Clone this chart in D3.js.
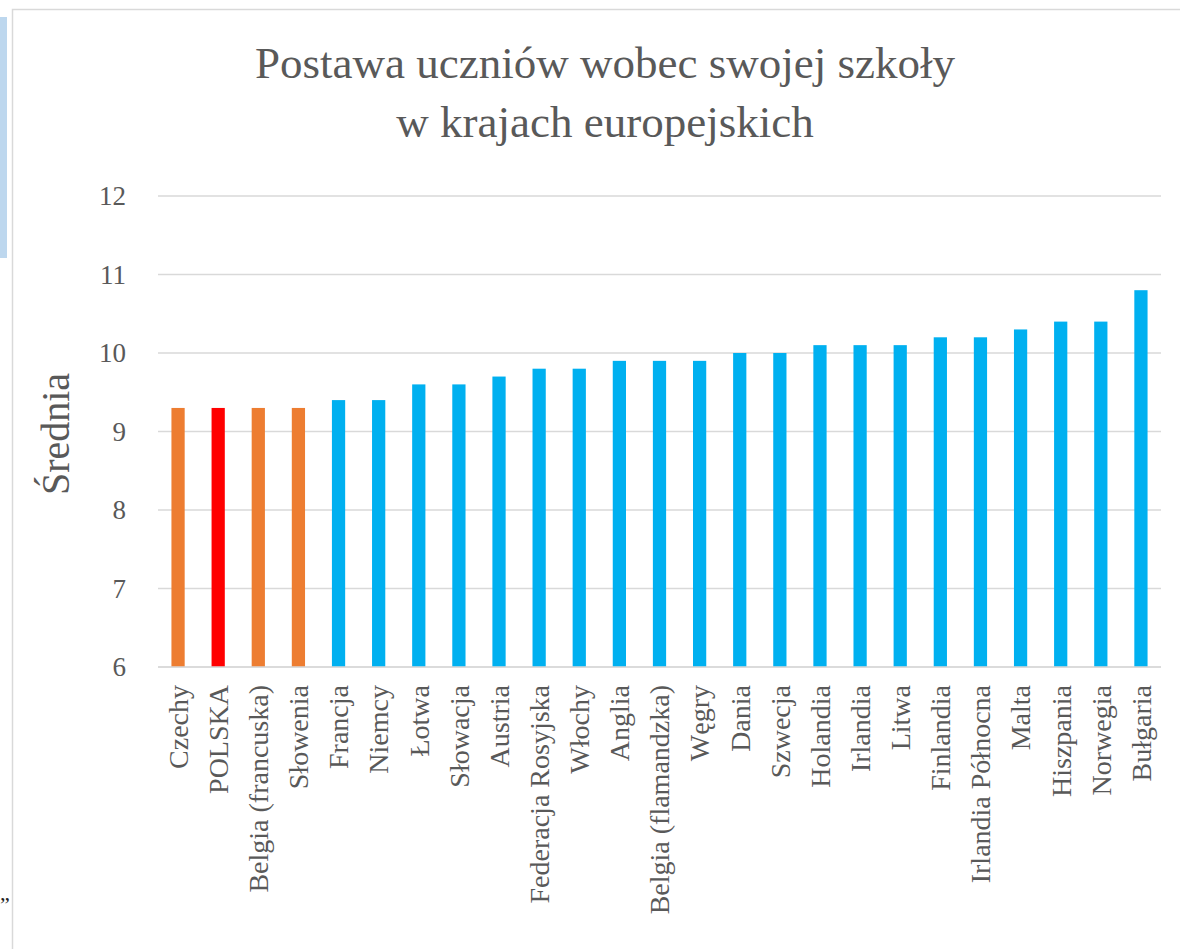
<!DOCTYPE html>
<html>
<head>
<meta charset="utf-8">
<script src="https://cdn.jsdelivr.net/npm/d3@7"></script>
<style>
  body { margin: 0; background: #fff; }
  svg text { font-family: "Liberation Serif", "DejaVu Serif", serif; fill: #595959; }
</style>
</head>
<body>
<svg id="chart" width="1180" height="949"></svg>
<script>
// data
const countries = ['Czechy', 'POLSKA', 'Belgia (francuska)', 'Słowenia', 'Francja', 'Niemcy', 'Łotwa',
  'Słowacja', 'Austria', 'Federacja Rosyjska', 'Włochy', 'Anglia', 'Belgia (flamandzka)', 'Węgry',
  'Dania', 'Szwecja', 'Holandia', 'Irlandia', 'Litwa', 'Finlandia', 'Irlandia Północna', 'Malta',
  'Hiszpania', 'Norwegia', 'Bułgaria']
const means = [9.3, 9.3, 9.3, 9.3, 9.4, 9.4, 9.6, 9.6, 9.7, 9.8, 9.8, 9.9, 9.9, 9.9,
  10.0, 10.0, 10.1, 10.1, 10.1, 10.2, 10.2, 10.3, 10.4, 10.4, 10.8]
const groups = ['low', 'pl', 'low', 'low', 'rest', 'rest', 'rest', 'rest', 'rest', 'rest', 'rest', 'rest', 'rest',
  'rest', 'rest', 'rest', 'rest', 'rest', 'rest', 'rest', 'rest', 'rest', 'rest', 'rest', 'rest']
const yTicks = [6, 7, 8, 9, 10, 11, 12]
const titleLines = ['Postawa uczniów wobec swojej szkoły', 'w krajach europejskich']

const colors = { low: '#ED7D31', pl: '#FF0000', rest: '#00B0F0' }
const serif = '"Liberation Serif", "DejaVu Serif", serif'

var svg = d3.select('#chart')

// page bits around the chart frame
svg.append('rect').attr('x', 0).attr('y', 17).attr('width', 7).attr('height', 241).style('fill', '#BDD7EE')
svg.append('path').attr('d', 'M12.5,949 V9.5 H1180').style('fill', 'none').style('stroke', '#d9d9d9').style('stroke-width', 1.5)
svg.append('text').attr('x', 0).attr('y', 912).style('font-size', '22px').style('fill', '#222').text('\u201D')

var margin = { left: 158, right: 1161, top: 196, bottom: 667 }

var x = d3.scaleBand().domain(countries).range([margin.left, margin.right]).paddingInner(0.67).paddingOuter(0.335)
var y = d3.scaleLinear().domain([6, 12]).range([margin.bottom, margin.top])

// gridlines
svg.append('g')
  .selectAll('line')
  .data(yTicks)
  .join('line')
  .attr('x1', margin.left)
  .attr('x2', margin.right)
  .attr('y1', d => y(d))
  .attr('y2', d => y(d))
  .style('stroke', '#d9d9d9')
  .style('stroke-width', 1.3)

// y tick labels
svg.append('g')
  .selectAll('text')
  .data(yTicks)
  .join('text')
  .attr('x', 126)
  .attr('y', d => y(d))
  .attr('dy', '0.35em')
  .attr('text-anchor', 'end')
  .attr('font-family', serif)
  .style('font-size', '27px')
  .text(d => d)

// bars
svg.append('g')
  .selectAll('rect')
  .data(countries)
  .join('rect')
  .attr('x', d => x(d))
  .attr('width', x.bandwidth())
  .attr('y', (d, i) => y(means[i]))
  .attr('height', (d, i) => y(6) - y(means[i]))
  .style('fill', (d, i) => colors[groups[i]])

// baseline drawn over bars
svg.append('line')
  .attr('x1', margin.left).attr('x2', margin.right)
  .attr('y1', y(6)).attr('y2', y(6))
  .style('stroke', '#d9d9d9').style('stroke-width', 1.5)

// category labels
svg.append('g')
  .selectAll('text')
  .data(countries)
  .join('text')
  .attr('transform', d => 'translate(' + (x(d) + x.bandwidth() / 2) + ',' + 685 + ') rotate(-90)')
  .attr('dy', '0.35em')
  .attr('text-anchor', 'end')
  .attr('font-family', serif)
  .style('font-size', '28px')
  .text(d => d)

// y axis title
svg.append('text')
  .attr('transform', 'translate(55,434) rotate(-90)')
  .attr('dy', '0.35em')
  .attr('text-anchor', 'middle')
  .attr('font-family', serif)
  .style('font-size', '40px')
  .text('Średnia')

// chart title
svg.append('g')
  .selectAll('text')
  .data(titleLines)
  .join('text')
  .attr('x', 605)
  .attr('y', (d, i) => 78 + i * 59)
  .attr('text-anchor', 'middle')
  .attr('font-family', serif)
  .style('font-size', '45px')
  .text(d => d)
</script>
</body>
</html>
